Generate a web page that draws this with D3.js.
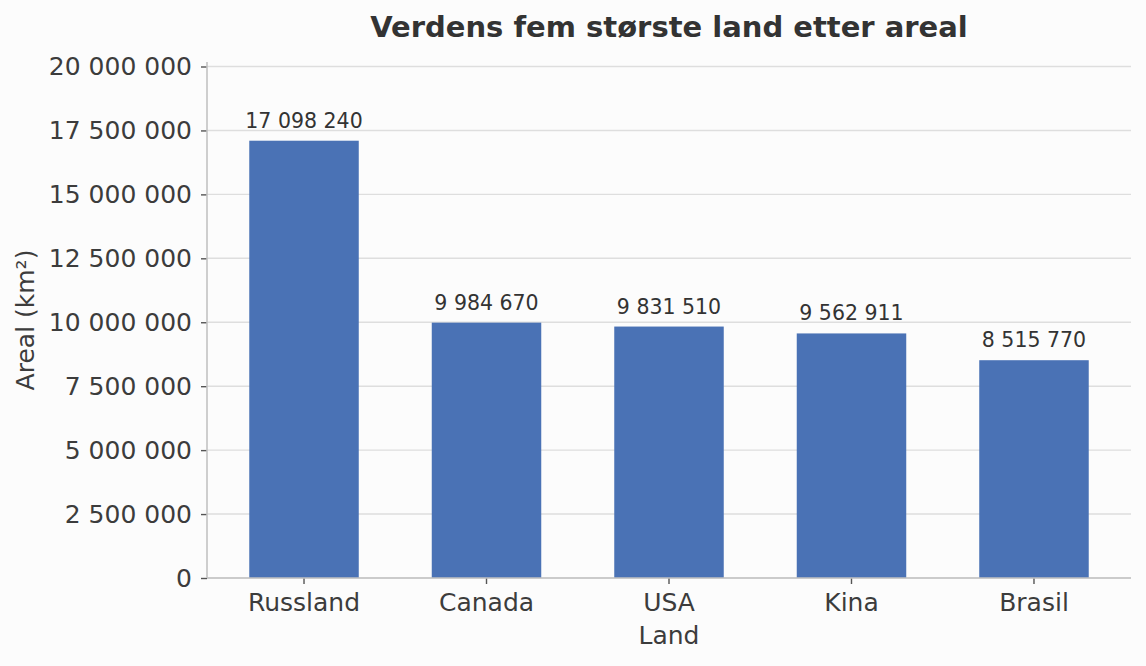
<!DOCTYPE html>
<html>
<head>
<meta charset="utf-8">
<script src="https://cdn.jsdelivr.net/npm/d3@7/dist/d3.min.js"></script>
<style>
  html, body { margin: 0; padding: 0; background: #fcfcfc; }
  svg { display: block; font-family: "DejaVu Sans", sans-serif; }
</style>
</head>
<body>
<svg id="chart" width="1146" height="666"></svg>
<script>
const categories = ["Russland", "Canada", "USA", "Kina", "Brasil"];
const areas = [17098240, 9984670, 9831510, 9562911, 8515770];
const yTicks = [0, 2500000, 5000000, 7500000, 10000000, 12500000, 15000000, 17500000, 20000000];
const titleText = "Verdens fem største land etter areal";
const xLabelText = "Land";
const yLabelText = "Areal (km²)";

(function () {
const W = 1146, H = 666;
const mLeft = 207, mRight = 1131, mTop = 62, mBottom = 578;
const textColor = "#3c3c3c";

const nb = d3.formatLocale({ decimal: ",", thousands: " ", grouping: [3], currency: ["", " kr"] });
const fmt = nb.format(",d");

const svg = d3.select("#chart");
svg.append("rect").attr("width", W).attr("height", H).attr("fill", "#fcfcfc");

const x = d3.scaleBand().domain(categories).range([mLeft, mRight])
  .paddingInner(0.4).paddingOuter(0.2316);
const y = d3.scaleLinear().domain([0, d3.max(areas) * 1.18]).range([mBottom, mTop]);

// grid
svg.append("g").selectAll("line").data(yTicks).join("line")
  .attr("x1", mLeft).attr("x2", mRight)
  .attr("y1", d => y(d)).attr("y2", d => y(d))
  .attr("stroke", "#dedede").attr("stroke-width", 1.4);

// bars
svg.append("g").selectAll("rect").data(categories).join("rect")
  .attr("x", d => x(d))
  .attr("width", x.bandwidth())
  .attr("y", (d, i) => y(areas[i]))
  .attr("height", (d, i) => y(0) - y(areas[i]))
  .attr("fill", "#4a72b5");

// value labels
svg.append("g").selectAll("text").data(categories).join("text")
  .attr("x", d => x(d) + x.bandwidth() / 2)
  .attr("y", (d, i) => y(areas[i]) - 13)
  .attr("text-anchor", "middle")
  .attr("font-size", 20.5)
  .attr("fill", "#333")
  .text((d, i) => fmt(areas[i]));

// y axis
const yAxis = d3.axisLeft(y).tickValues(yTicks).tickFormat(fmt).tickSize(6).tickPadding(9);
const gy = svg.append("g").attr("transform", `translate(${mLeft},0)`).call(yAxis);
gy.select(".domain").remove();
gy.selectAll(".tick line").attr("stroke", "#555").attr("stroke-width", 1.4);
gy.selectAll(".tick text").attr("font-size", 25).attr("fill", textColor)
  .attr("font-family", "DejaVu Sans");

// x axis
const xAxis = d3.axisBottom(x).tickSize(6).tickPadding(9);
const gx = svg.append("g").attr("transform", `translate(0,${mBottom})`).call(xAxis);
gx.select(".domain").remove();
gx.selectAll(".tick line").attr("stroke", "#555").attr("stroke-width", 1.4);
gx.selectAll(".tick text").attr("font-size", 25).attr("fill", textColor)
  .attr("font-family", "DejaVu Sans");

// spines
svg.append("line").attr("x1", mLeft).attr("x2", mLeft).attr("y1", mTop).attr("y2", mBottom)
  .attr("stroke", "#c2c2c2").attr("stroke-width", 1.6);
svg.append("line").attr("x1", mLeft).attr("x2", mRight).attr("y1", mBottom).attr("y2", mBottom)
  .attr("stroke", "#c2c2c2").attr("stroke-width", 1.6);

// title
svg.append("text").attr("x", (mLeft + mRight) / 2).attr("y", 37)
  .attr("text-anchor", "middle").attr("font-size", 29).attr("font-weight", "bold")
  .attr("fill", "#333").text(titleText);

// axis labels
svg.append("text").attr("x", (mLeft + mRight) / 2).attr("y", 644)
  .attr("text-anchor", "middle").attr("font-size", 25).attr("fill", textColor)
  .text(xLabelText);
svg.append("text").attr("transform", `translate(34,${(mTop + mBottom) / 2}) rotate(-90)`)
  .attr("text-anchor", "middle").attr("font-size", 25).attr("fill", textColor)
  .text(yLabelText);
})();
</script>
</body>
</html>
